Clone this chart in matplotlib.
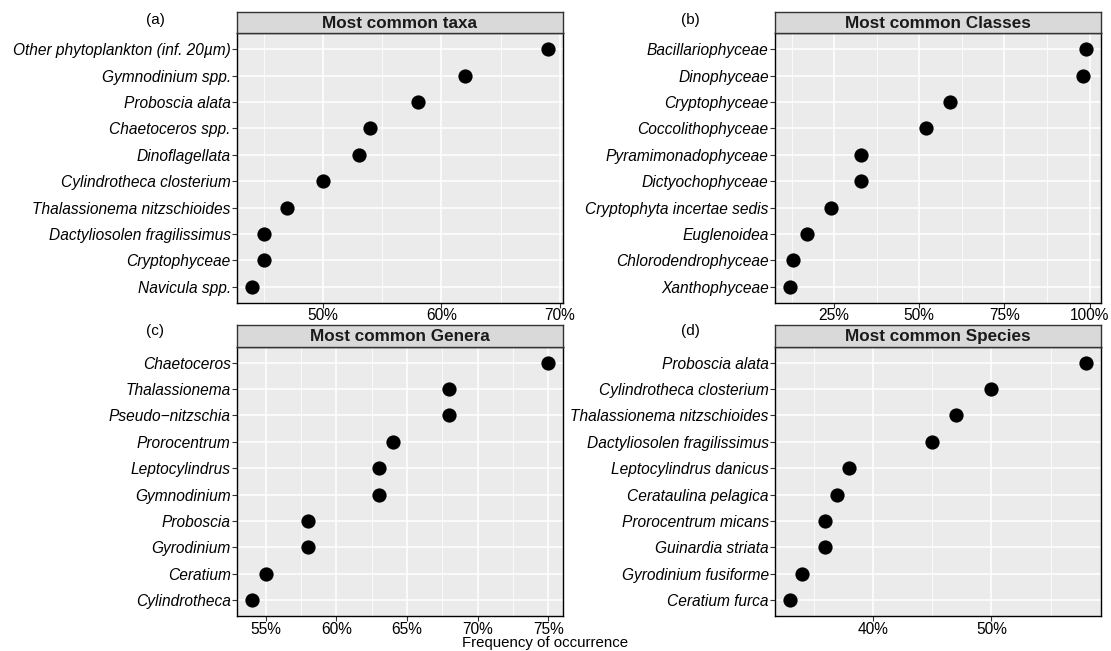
import matplotlib
matplotlib.use("Agg")
import matplotlib.pyplot as plt
from matplotlib.ticker import FuncFormatter, FixedLocator

plt.rcParams['font.family'] = ['Liberation Sans', 'DejaVu Sans']

# ---- data (top to bottom) ----
taxa_labels = ["Other phytoplankton (inf. 20µm)", "Gymnodinium spp.", "Proboscia alata",
               "Chaetoceros spp.", "Dinoflagellata", "Cylindrotheca closterium",
               "Thalassionema nitzschioides", "Dactyliosolen fragilissimus",
               "Cryptophyceae", "Navicula spp."]
taxa_values = [69, 62, 58, 54, 53, 50, 47, 45, 45, 44]

class_labels = ["Bacillariophyceae", "Dinophyceae", "Cryptophyceae", "Coccolithophyceae",
                "Pyramimonadophyceae", "Dictyochophyceae", "Cryptophyta incertae sedis",
                "Euglenoidea", "Chlorodendrophyceae", "Xanthophyceae"]
class_values = [99, 98, 59, 52, 33, 33, 24, 17, 13, 12]

genera_labels = ["Chaetoceros", "Thalassionema", "Pseudo\u2212nitzschia", "Prorocentrum",
                 "Leptocylindrus", "Gymnodinium", "Proboscia", "Gyrodinium",
                 "Ceratium", "Cylindrotheca"]
genera_values = [75, 68, 68, 64, 63, 63, 58, 58, 55, 54]

species_labels = ["Proboscia alata", "Cylindrotheca closterium", "Thalassionema nitzschioides",
                  "Dactyliosolen fragilissimus", "Leptocylindrus danicus", "Cerataulina pelagica",
                  "Prorocentrum micans", "Guinardia striata", "Gyrodinium fusiforme",
                  "Ceratium furca"]
species_values = [58, 50, 47, 45, 38, 37, 36, 36, 34, 33]

titles = ["Most common taxa", "Most common Classes", "Most common Genera", "Most common Species"]
tags = ["(a)", "(b)", "(c)", "(d)"]
major_breaks = [[50, 60, 70], [25, 50, 75, 100], [55, 60, 65, 70, 75], [40, 50]]
minor_breaks = [[45, 55, 65], [12.5, 37.5, 62.5, 87.5], [57.5, 62.5, 67.5, 72.5], [35, 45, 55]]

W, H = 1111, 651
fig = plt.figure(figsize=(W / 100, H / 100), dpi=100)

# panel boxes in pixels: (x0, x1, ytop, ybottom)
boxes = [(237, 563, 33.4, 302.7), (775, 1101, 33.4, 302.7),
         (237, 563, 346.7, 616), (775, 1101, 346.7, 616)]
strip_h = 21.7
tag_pos = [(155, 20), (690, 20), (155, 331), (690, 331)]

datasets = [(taxa_labels, taxa_values), (class_labels, class_values),
            (genera_labels, genera_values), (species_labels, species_values)]

pct = FuncFormatter(lambda v, p: f"{v:g}%")
FS = 11.2

for k, ((labels, values), (x0, x1, yt, yb)) in enumerate(zip(datasets, boxes)):
    ax = fig.add_axes([x0 / W, 1 - yb / H, (x1 - x0) / W, (yb - yt) / H])
    n = len(labels)
    ypos = [n - 1 - i for i in range(n)]
    vmin, vmax = min(values), max(values)
    R = vmax - vmin
    ax.set_xlim(vmin - 0.05 * R, vmax + 0.05 * R)
    ax.set_ylim(-0.6, n - 1 + 0.6)
    ax.set_facecolor("#EBEBEB")
    ax.xaxis.set_major_locator(FixedLocator(major_breaks[k]))
    ax.xaxis.set_minor_locator(FixedLocator(minor_breaks[k]))
    ax.xaxis.set_major_formatter(pct)
    ax.set_yticks(ypos)
    ax.set_yticklabels(labels, fontstyle="italic", fontsize=FS, color="black")
    ax.grid(True, which="major", color="white", lw=1.1)
    ax.grid(True, which="minor", axis="x", color="white", lw=0.55)
    ax.set_axisbelow(True)
    ax.scatter(values, ypos, s=105, color="black", zorder=3, linewidths=0)
    ax.tick_params(axis="both", which="major", length=3.3, width=0.8, color="#333333",
                   labelsize=FS, labelcolor="black", pad=1.2)
    ax.tick_params(axis="x", which="major", pad=0.8)
    ax.tick_params(axis="x", which="minor", length=0)
    for sp in ax.spines.values():
        sp.set_color("black")
        sp.set_linewidth(1.0)
    # strip
    sax = fig.add_axes([x0 / W, 1 - yt / H, (x1 - x0) / W, strip_h / H])
    sax.set_xticks([]); sax.set_yticks([])
    sax.set_facecolor("#D9D9D9")
    for sp in sax.spines.values():
        sp.set_color("#333333")
        sp.set_linewidth(1.0)
    sax.text(0.5, 0.47, titles[k], ha="center", va="center", fontsize=12.3,
             fontweight="bold", color="#1A1A1A", transform=sax.transAxes)
    tx, ty = tag_pos[k]
    fig.text(tx / W, 1 - ty / H, tags[k], ha="center", va="center", fontsize=11, color="black")

fig.text(545 / W, 1 - 647 / H, "Frequency of occurrence", ha="center", va="baseline",
         fontsize=10.8, color="black")

fig.savefig("out.png", dpi=100, facecolor="white")
